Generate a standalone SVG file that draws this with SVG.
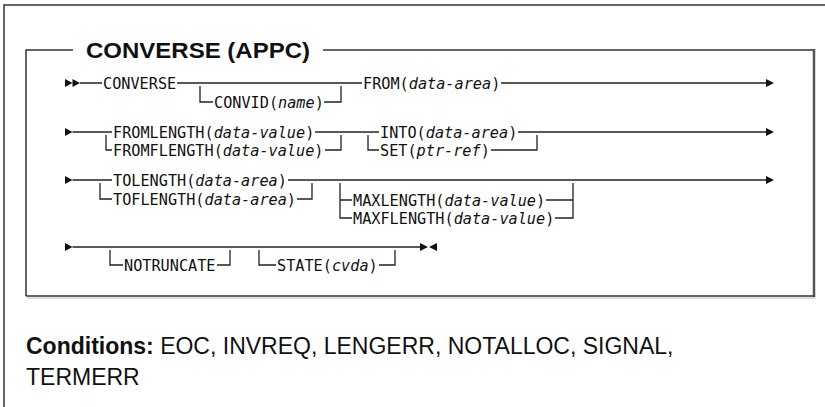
<svg xmlns="http://www.w3.org/2000/svg" width="825" height="407" viewBox="0 0 825 407">
<style>
.ln{stroke:#222;stroke-width:1.3;fill:none}
.fr{stroke:#333;stroke-width:1.5;fill:none}
.ah{fill:#111}
.kw{font-family:"DejaVu Sans Mono","Liberation Mono",monospace;font-size:15.3px;fill:#111}
.v{font-style:italic}
.ttl{font-family:"Liberation Sans",Arial,sans-serif;font-weight:bold;font-size:22.5px;fill:#111}
.cond{font-family:"Liberation Sans",Arial,sans-serif;font-size:23px;fill:#111}
</style>
<rect width="825" height="407" fill="#fff"/>
<g id="frame">
<path class="fr" d="M4,407 V5 H825"/>
<path class="fr" d="M26,296 V50 H73 M323,50 H814"/>
<path d="M814,49 V297" stroke="#555" stroke-width="2.5" fill="none"/>
<path d="M26,296 H815" stroke="#333" stroke-width="1.5" fill="none"/>
<path d="M27,298 H815" stroke="#bbb" stroke-width="1" fill="none"/>
<text class="ttl" x="86" y="58" textLength="224" lengthAdjust="spacingAndGlyphs">CONVERSE (APPC)</text>
</g>
<g id="connectors">
<!-- row 1 -->
<path class="ah" d="M65,79 L72.5,83 L65,87 Z M72.5,79 L80,83 L72.5,87 Z"/>
<path class="ln" d="M80,83 H102 M177,83 H362 M501,83 H766"/>
<path class="ln" d="M200,86 V102 H213 M324,102 H341 V86"/>
<path class="ah" d="M766,79 L774,83 L766,87 Z"/>
<!-- row 2 -->
<path class="ah" d="M65,128 L72.5,132 L65,136 Z"/>
<path class="ln" d="M72.5,132 H112 M315,132 H379 M518,132 H766"/>
<path class="ln" d="M106,135 V150 H112 M325,150 H341 V135"/>
<path class="ln" d="M368,135 V150 H379 M491,150 H537 V135"/>
<path class="ah" d="M766,128 L774,132 L766,136 Z"/>
<!-- row 3 -->
<path class="ah" d="M65,176 L72.5,180 L65,184 Z"/>
<path class="ln" d="M72.5,180 H112 M288,180 H766"/>
<path class="ln" d="M100,183 V199 H112 M297,199 H312 V183"/>
<path class="ln" d="M340,183 V218 H352 M340,200 H352 M546,200 H573 M555,218 H573 V183"/>
<path class="ah" d="M766,176 L774,180 L766,184 Z"/>
<!-- row 4 -->
<path class="ah" d="M65,243 L72.5,247 L65,251 Z"/>
<path class="ln" d="M72.5,247 H420"/>
<path class="ln" d="M110,250 V265 H123 M217,265 H230 V250"/>
<path class="ln" d="M259,250 V265 H276 M379,265 H395 V250"/>
<path class="ah" d="M420,243 L428,247 L420,251 Z M437,243 L429,247 L437,251 Z"/>
</g>
<g id="n-converse"><text class="kw" x="103" y="88.6" textLength="73.2" lengthAdjust="spacingAndGlyphs">CONVERSE</text></g>
<g id="n-convid"><text class="kw" x="214" y="107.6" textLength="109.8" lengthAdjust="spacingAndGlyphs">CONVID(<tspan class="v">name</tspan>)</text></g>
<g id="n-from"><text class="kw" x="363" y="88.6" textLength="137.3" lengthAdjust="spacingAndGlyphs">FROM(<tspan class="v">data-area</tspan>)</text></g>
<g id="n-fromlength"><text class="kw" x="113" y="137.6" textLength="201.3" lengthAdjust="spacingAndGlyphs">FROMLENGTH(<tspan class="v">data-value</tspan>)</text></g>
<g id="n-fromflength"><text class="kw" x="113" y="155.6" textLength="210.5" lengthAdjust="spacingAndGlyphs">FROMFLENGTH(<tspan class="v">data-value</tspan>)</text></g>
<g id="n-into"><text class="kw" x="380" y="137.6" textLength="137.3" lengthAdjust="spacingAndGlyphs">INTO(<tspan class="v">data-area</tspan>)</text></g>
<g id="n-set"><text class="kw" x="380" y="155.6" textLength="109.8" lengthAdjust="spacingAndGlyphs">SET(<tspan class="v">ptr-ref</tspan>)</text></g>
<g id="n-tolength"><text class="kw" x="113" y="185.6" textLength="173.9" lengthAdjust="spacingAndGlyphs">TOLENGTH(<tspan class="v">data-area</tspan>)</text></g>
<g id="n-toflength"><text class="kw" x="113" y="204.6" textLength="183" lengthAdjust="spacingAndGlyphs">TOFLENGTH(<tspan class="v">data-area</tspan>)</text></g>
<g id="n-maxlength"><text class="kw" x="353" y="205.6" textLength="192.2" lengthAdjust="spacingAndGlyphs">MAXLENGTH(<tspan class="v">data-value</tspan>)</text></g>
<g id="n-maxflength"><text class="kw" x="353" y="223.6" textLength="201.3" lengthAdjust="spacingAndGlyphs">MAXFLENGTH(<tspan class="v">data-value</tspan>)</text></g>
<g id="n-notruncate"><text class="kw" x="124" y="270.6" textLength="91.5" lengthAdjust="spacingAndGlyphs">NOTRUNCATE</text></g>
<g id="n-state"><text class="kw" x="277" y="270.6" textLength="100.7" lengthAdjust="spacingAndGlyphs">STATE(<tspan class="v">cvda</tspan>)</text></g>
<g id="conditions">
<text class="cond" x="26" y="354"><tspan font-weight="bold">Conditions:</tspan> EOC, INVREQ, LENGERR, NOTALLOC, SIGNAL,</text>
<text class="cond" x="26" y="385">TERMERR</text>
</g>
</svg>
